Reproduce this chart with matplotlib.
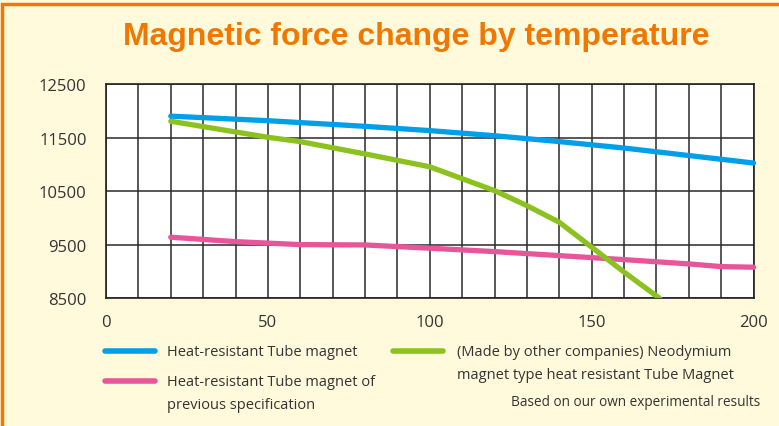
import numpy as np
import matplotlib.pyplot as plt
from matplotlib.lines import Line2D
from matplotlib.patches import Rectangle

# temperature (x) and magnetic force values
temp_blue = [20, 50, 80, 100, 120, 140, 160, 180, 200]
force_blue = [11900, 11815, 11710, 11630, 11535, 11425, 11305, 11165, 11025]

temp_green = [20, 50, 60, 80, 100, 120, 130, 140, 150, 160, 171]
force_green = [11805, 11505, 11425, 11195, 10955, 10510, 10230, 9920, 9455, 8990, 8500]

temp_pink = [20, 40, 60, 80, 100, 120, 140, 160, 180, 190, 200]
force_pink = [9640, 9558, 9502, 9496, 9435, 9372, 9297, 9222, 9142, 9092, 9080]

labels = ["Heat-resistant Tube magnet",
          "Heat-resistant Tube magnet of\nprevious specification",
          "(Made by other companies) Neodymium\nmagnet type heat resistant Tube Magnet"]

BLUE = '#00a0e9'
PINK = '#e8559a'
GREEN = '#8cc21f'
ORANGE = '#f07800'
BG = '#fffadc'
W, H = 779, 427

plt.rcParams['font.family'] = ['Open Sans', 'DejaVu Sans']

fig = plt.figure(figsize=(W / 100, H / 100), dpi=100, facecolor=BG)

# orange frame (top + left visible, cropped on the other sides)
fig.add_artist(Rectangle((1.5 / W, -0.1), 1.2, 1 - 4.5 / H + 0.1, transform=fig.transFigure,
                         fill=False, edgecolor=ORANGE, lw=2.5))

fig.text(416 / W, 1 - 37 / H, "Magnetic force change by temperature", ha='center', va='center',
         color=ORANGE, fontsize=23, fontweight='bold', family='Liberation Sans')

ax = fig.add_axes([106 / W, 1 - 299.3 / H, (753.5 - 106) / W, (299.3 - 85) / H])
ax.set_facecolor('white')
ax.set_xlim(0, 200)
ax.set_ylim(8500, 12500)
ax.set_xticks(np.arange(0, 201, 50))
ax.set_xticks(np.arange(0, 201, 10), minor=True)
ax.set_yticks(np.arange(8500, 12501, 1000))
ax.grid(True, which='both', color='#2a2a2a', lw=1.1)
ax.tick_params(which='both', length=0, labelsize=12, colors='#333333')
ax.tick_params(axis='x', pad=11)
ax.tick_params(axis='y', pad=14)
for s in ax.spines.values():
    s.set_color('#222222')
    s.set_linewidth(1.2)
ax.set_axisbelow(True)

ax.plot(temp_blue, force_blue, color=BLUE, lw=3.8, solid_capstyle='round', clip_on=False, zorder=3)
ax.plot(temp_pink, force_pink, color=PINK, lw=3.8, solid_capstyle='round', clip_on=False, zorder=3)
ax.plot(temp_green, force_green, color=GREEN, lw=3.8, solid_capstyle='round', clip_on=True, zorder=4)

# legend, drawn by hand
def legend_item(x0, y, color, text, gap=62):
    fig.add_artist(Line2D([x0 / W, (x0 + 50) / W], [1 - y / H, 1 - y / H], color=color, lw=4,
                          solid_capstyle='round', transform=fig.transFigure))
    fig.text((x0 + gap) / W, 1 - (y - 7) / H, text, ha='left', va='top', fontsize=10.5,
             color='#333333', linespacing=1.7)

legend_item(105, 352, BLUE, labels[0])
legend_item(105, 382, PINK, labels[1])
legend_item(393, 352, GREEN, labels[2], gap=64)

fig.text(760 / W, 1 - 403 / H, "Based on our own experimental results", ha='right', va='center',
         fontsize=9.8, color='#333333')

fig.savefig('out.png', dpi=100, facecolor=BG)
